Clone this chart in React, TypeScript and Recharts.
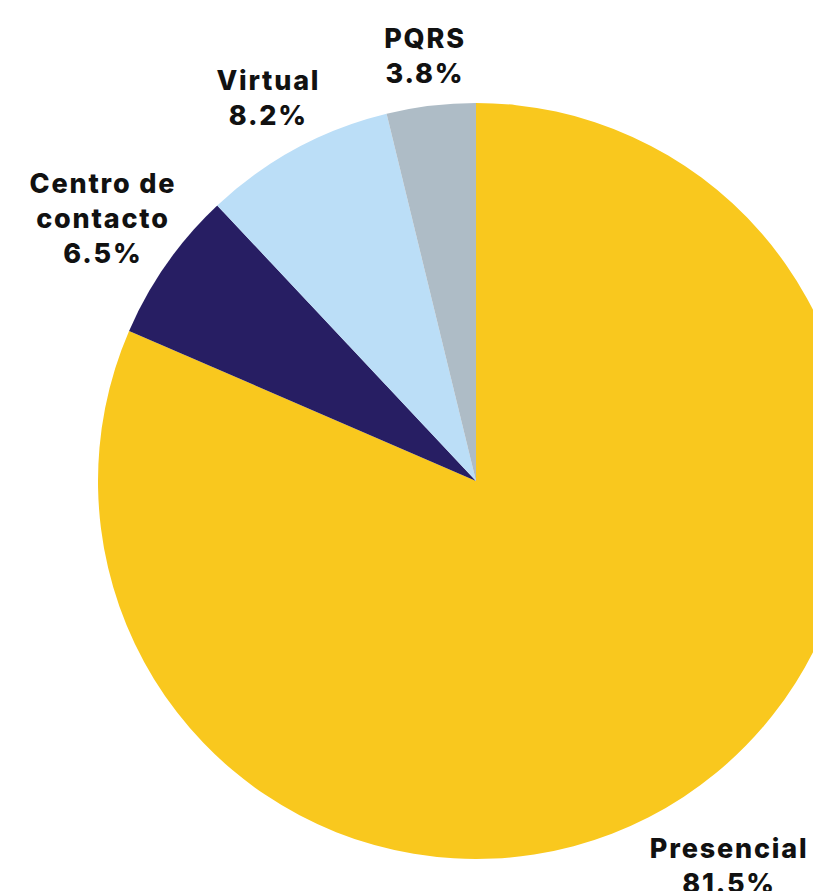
import { PieChart, Pie, Cell } from 'recharts'

const CANALES = ['Presencial', 'Centro de contacto', 'Virtual', 'PQRS']
const VALORES = [81.5, 6.5, 8.2, 3.8]
const ETIQUETAS = [['Presencial'], ['Centro de', 'contacto'], ['Virtual'], ['PQRS']]
const COLORES = ['#F9C81E', '#271E63', '#BBDEF7', '#AEBCC6']

// distancia extra de cada etiqueta al borde del pastel
const GAP = [83, 78, 58, 50]
const RAD = Math.PI / 180
const LH = 35

const rows = CANALES.map((c, i) => ({ name: c, value: VALORES[i], idx: i }))

function Etiqueta(p: any) {
  const { cx, cy, midAngle, outerRadius, index } = p
  const r = outerRadius + GAP[index]
  const x = cx + r * Math.cos(-midAngle * RAD)
  const y = cy + r * Math.sin(-midAngle * RAD)
  const lines = [...ETIQUETAS[index], `${VALORES[index].toFixed(1)}%`]
  const y0 = y - ((lines.length - 1) * LH) / 2
  return (
    <text x={x} y={y0} textAnchor="middle" fill="#111" fontSize={27} fontWeight={800}
      letterSpacing={1.8} fontFamily="Inter, 'Open Sans', sans-serif">
      {lines.map((l, i) => (
        <tspan key={i} x={x} y={y0 + i * LH} dominantBaseline="central">{l}</tspan>
      ))}
    </text>
  )
}

export default function App() {
  return (
    <div style={{ position: 'absolute', left: 0, top: 0, background: '#fff' }}>
      <PieChart width={813} height={891} margin={{ top: 0, right: 0, bottom: 0, left: 0 }}>
        <Pie data={rows} dataKey="value" nameKey="name" cx={476} cy={481}
          outerRadius={378} startAngle={90} endAngle={-270} stroke="none"
          label={Etiqueta} labelLine={false} isAnimationActive={false}>
          {rows.map((r) => <Cell key={r.name} fill={COLORES[r.idx]} />)}
        </Pie>
      </PieChart>
    </div>
  )
}
